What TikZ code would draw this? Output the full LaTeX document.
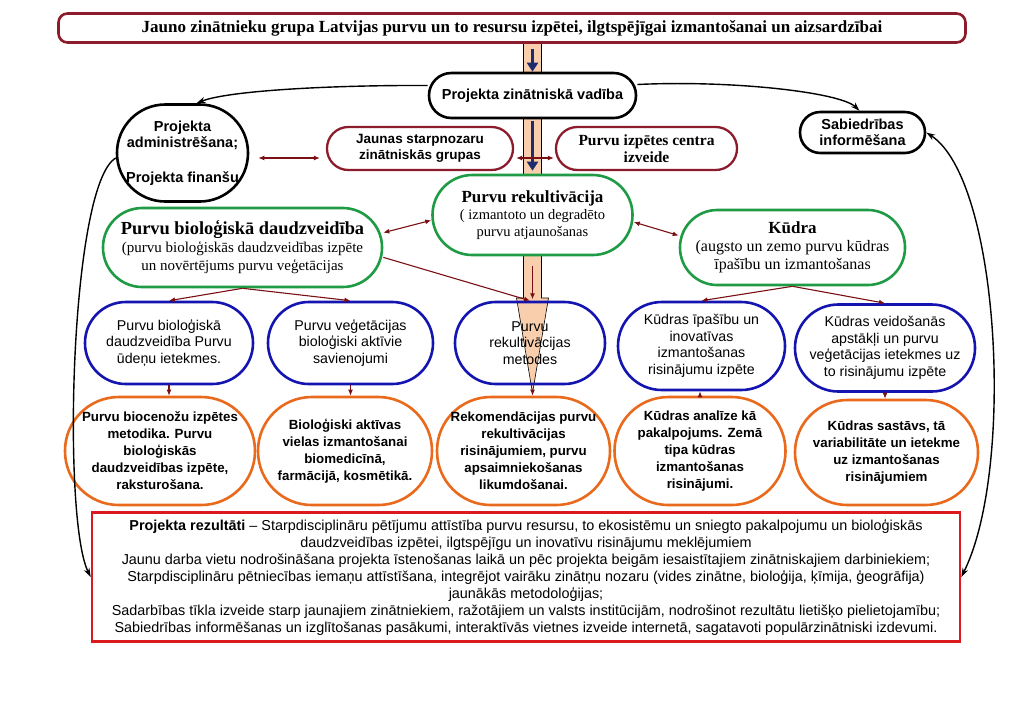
\documentclass[tikz,border=0pt]{standalone}
\usepackage{fontspec}
\setmainfont{Liberation Serif}
\setsansfont{Liberation Sans}
\usetikzlibrary{positioning, arrows.meta}
\definecolor{Wine}{HTML}{8C1C2C}
\definecolor{Rust}{HTML}{7A1014}
\definecolor{Navy}{HTML}{1F2C6B}
\definecolor{Peach}{HTML}{F9CEAC}
\definecolor{Leaf}{HTML}{1F9A45}
\definecolor{Ink}{HTML}{1414B0}
\definecolor{Pumpkin}{HTML}{E96A1C}
\definecolor{Signal}{HTML}{DA1A1F}
\tikzset{
    dims/.style 2 args={minimum width=#1, minimum height=#2, rounded corners=#2/2-0.2},
    pill/.style={rectangle, fill=white, align=center, inner sep=1pt, line width=2.6pt},
    blacknode/.style={pill, draw=black, font=\sffamily\bfseries\fontsize{14.5}{16.5}\selectfont},
    winenode/.style={pill, draw=Wine, line width=2.3pt},
    greennode/.style={pill, draw=Leaf, font=\fontsize{14.5}{17}\selectfont},
    bluenode/.style={pill, draw=Ink, font=\sffamily\fontsize{14.2}{16.5}\selectfont},
    orangenode/.style={pill, draw=Pumpkin, font=\sffamily\bfseries\fontsize{13.3}{17}\selectfont},
    arrow/.style={-{Latex[length=6pt,width=5pt]}, line width=1.1pt, color=Rust},
    twoway/.style={arrow, {Latex[length=6pt,width=5pt]}-{Latex[length=6pt,width=5pt]}},
    bigarrow/.style={-{Triangle[length=9pt,width=11pt]}, line width=3.6pt, color=Navy},
    curvy/.style={-{Stealth[length=9pt,width=6pt]}, line width=1.4pt},
    stripe/.style={fill=Peach, draw=black, line width=0.6pt},
}
\begin{document}
\begin{tikzpicture}[x=1pt, y=1pt]
    \useasboundingbox (0,0) rectangle (1024,-724);

    % central block arrow (behind everything)
    \coordinate (tip) at (532.5,-393);
    \draw[stripe] (523.5,-42) -- (523.5,-298) -- (516.5,-298) -- (tip) -- (548.5,-298) -- (541.5,-298) -- (541.5,-42) -- cycle;

    % top level
    \node[pill, draw=Wine, minimum width=907, minimum height=29, rounded corners=9pt,
          font=\bfseries\fontsize{17}{19}\selectfont] (title) at (512,-28)
          {Jauno zinātnieku grupa Latvijas purvu un to resursu izpētei, ilgtspējīgai izmantošanai un aizsardzībai};
    \node[blacknode, dims={207}{45}] (vadiba) at (532.5,-95.5) {Projekta zinātniskā vadība};
    \node[blacknode, dims={131}{97}] (admin) at (182.5,-153) {Projekta\\administrēšana;\\[18pt]Projekta finanšu};
    \node[blacknode, dims={125}{41}] (sabiedr) at (862.5,-132.5) {Sabiedrības\\informēšana};
    \node[winenode, dims={186}{43}, font=\sffamily\bfseries\fontsize{13.5}{16}\selectfont] (grupas) at (420,-148.5)
          {Jaunas starpnozaru\\zinātniskās grupas};
    \node[winenode, dims={181}{43}, font=\bfseries\fontsize{15.5}{17}\selectfont] (centrs) at (646.5,-148.5)
          {Purvu izpētes centra\\izveide};

    % research directions
    \node[greennode, dims={200}{80}] (rekult) at (532.5,-215)
          {{\bfseries\fontsize{17}{19}\selectfont Purvu rekultivācija}\\( izmantoto un degradēto\\purvu atjaunošanas};
    \node[greennode, dims={279}{79}, font=\fontsize{15}{18}\selectfont] (bio) at (242.5,-247.5)
          {{\bfseries\fontsize{18.4}{20}\selectfont Purvu bioloģiskā daudzveidība}\\(purvu bioloģiskās daudzveidības izpēte\\un novērtējums purvu veģetācijas};
    \node[greennode, dims={225}{75}, font=\fontsize{16}{18}\selectfont] (kudra) at (792.5,-247.5)
          {{\bfseries\fontsize{17}{19}\selectfont Kūdra}\\(augsto un zemo purvu kūdras\\īpašību un izmantošanas};

    % tasks
    \node[bluenode, dims={168}{82}] (udens) at (169,-343) {Purvu bioloģiskā\\daudzveidība Purvu\\ūdeņu ietekmes.};
    \node[bluenode, dims={165}{82}] (savien) at (350.5,-343) {Purvu veģetācijas\\bioloģiski aktīvie\\savienojumi};
    \node[bluenode, dims={150}{82}, fill=none] (metodes) at (530,-343) {Purvu\\rekultivācijas\\metodes};
    \node[bluenode, dims={167}{88}] (ipasibas) at (701.5,-346) {Kūdras īpašību un\\inovatīvas\\izmantošanas\\risinājumu izpēte};
    \node[bluenode, dims={180}{87}] (veidos) at (885,-348) {Kūdras veidošanās\\apstākļi un purvu\\veģetācijas ietekmes uz\\to risinājumu izpēte};

    % outputs
    \node[orangenode, dims={190}{108}] (biocen) at (160,-451) {Purvu biocenožu izpētes\\metodika. Purvu\\bioloģiskās\\daudzveidības izpēte,\\raksturošana.};
    \node[orangenode, dims={174}{108}] (vielas) at (345,-451) {Bioloģiski aktīvas\\vielas izmantošanai\\biomedicīnā,\\farmācijā, kosmētikā.};
    \node[orangenode, dims={173}{108}] (rekom) at (523.5,-451) {Rekomendācijas purvu\\rekultivācijas\\risinājumiem, purvu\\apsaimniekošanas\\likumdošanai.};
    \node[orangenode, dims={171}{108}] (analize) at (700,-451) {Kūdras analīze kā\\pakalpojums. Zemā\\tipa kūdras\\izmantošanas\\risinājumi.};
    \node[orangenode, dims={183}{105}] (sastavs) at (886.5,-452.5) {Kūdras sastāvs, tā\\variabilitāte un ietekme\\uz izmantošanas\\risinājumiem};

    % results
    \node[draw=Signal, fill=white, line width=2.6pt, minimum width=868, minimum height=129, inner sep=1pt,
          align=center, font=\sffamily\fontsize{14.4}{17}\selectfont] (rez) at (526,-577)
          {\textbf{Projekta rezultāti} – Starpdisciplināru pētījumu attīstība purvu resursu, to ekosistēmu un sniegto pakalpojumu un bioloģiskās\\
           daudzveidības izpētei, ilgtspējīgu un inovatīvu risinājumu meklējumiem\\
           Jaunu darba vietu nodrošināšana projekta īstenošanas laikā un pēc projekta beigām iesaistītajiem zinātniskajiem darbiniekiem;\\
           Starpdisciplināru pētniecības iemaņu attīstīšana, integrējot vairāku zinātņu nozaru (vides zinātne, bioloģija, ķīmija, ģeogrāfija)\\
           jaunākās metodoloģijas;\hspace*{210pt}\\
           Sadarbības tīkla izveide starp jaunajiem zinātniekiem, ražotājiem un valsts institūcijām, nodrošinot rezultātu lietišķo pielietojamību;\\
           Sabiedrības informēšanas un izglītošanas pasākumi, interaktīvās vietnes izveide internetā, sagatavoti populārzinātniski izdevumi.};

    % navy arrows in the stripe
    \draw[bigarrow, shorten <=5pt] (vadiba.north |- title.south) -- (vadiba.north);
    \draw[bigarrow, shorten <=2pt, shorten >=3pt] (vadiba.south) -- (rekult.north);
    \draw[arrow] ([yshift=-10pt]rekult.south) -- ([yshift=-43pt]rekult.south);

    % links between nodes
    \draw[twoway, shorten <=9pt, shorten >=6pt] ([yshift=-5pt]admin.east) -- ([yshift=-9.5pt]grupas.west);
    \draw[twoway, shorten <=2pt, shorten >=1pt] ([yshift=-9.5pt]grupas.east) -- ([yshift=-9.5pt]centrs.west);
    \draw[twoway] (bio.6) -- (rekult.183);
    \draw[twoway] (rekult.-4) -- (kudra.174);
    \draw[arrow] (bio.south) -- (udens.north);
    \draw[arrow] (bio.south) -- (savien.north);
    \draw[arrow] (bio.-4) -- (metodes.north);
    \draw[arrow] (kudra.south) -- (ipasibas.north);
    \draw[arrow] (kudra.south) -- (veidos.north);
    \draw[arrow] (udens.south) -- (udens.south |- biocen.north);
    \draw[arrow] (savien.south) -- (savien.south |- vielas.north);
    \draw[arrow] (tip) -- (tip |- rekom.north);
    \draw[arrow] (analize.north) -- (analize.north |- ipasibas.south);
    \draw[arrow] (veidos.south) -- (veidos.south |- sastavs.north);

    % curved black arrows
    \draw[curvy] ([yshift=10pt]vadiba.west) .. controls (340,-85) and (230,-90) .. ([xshift=14pt]admin.north);
    \draw[curvy] ([yshift=11pt]vadiba.east) .. controls (730,-80) and (840,-92) .. ([xshift=-3pt]sabiedr.north);
    \draw[curvy] ([yshift=-5pt]admin.west) .. controls (70,-185) and (62,-520) .. (rez.west);
    \draw[curvy, {Stealth[length=9pt,width=6pt]}-{Stealth[length=9pt,width=6pt]}] (sabiedr.east) .. controls (1000,-180) and (1015,-470) .. (rez.east);
\end{tikzpicture}
\end{document}
